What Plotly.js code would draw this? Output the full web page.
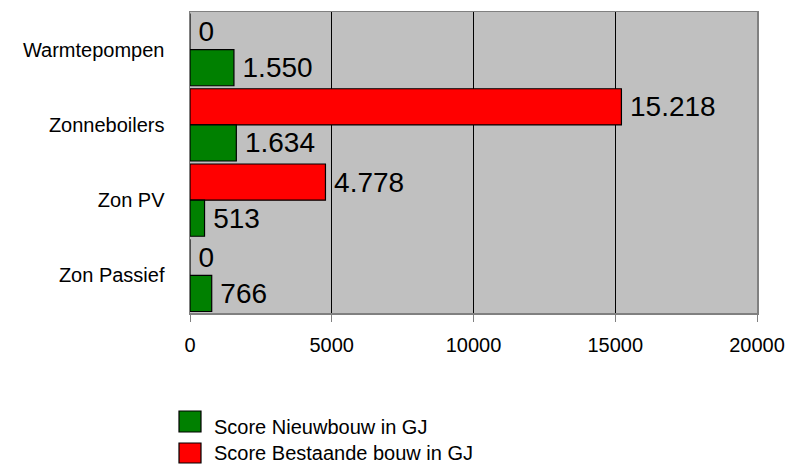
<!DOCTYPE html>
<html>
<head>
<meta charset="utf-8">
<script src="https://cdn.plot.ly/plotly-3.0.1.min.js"></script>
<style>html,body{margin:0;padding:0;background:#fff;}#chart{width:789px;height:465px;}</style>
</head>
<body>
<div id="chart"></div>
<script>
const categories = ['Warmtepompen', 'Zonneboilers', 'Zon PV', 'Zon Passief'];
const bestaandeBouw = [0, 15218, 4778, 0];
const nieuwbouw = [1550, 1634, 513, 766];
const seriesNames = ['Score Bestaande bouw in GJ', 'Score Nieuwbouw in GJ'];
const xTicks = [0, 5000, 10000, 15000, 20000];

function fmt(v) { return '\u2009' + String(v).replace(/\B(?=(\d{3})+(?!\d))/g, '.'); }

const FONT = 'Liberation Sans, Arial, sans-serif';

const traces = [
  {
    type: 'bar', orientation: 'h', name: seriesNames[0],
    y: categories, x: bestaandeBouw,
    text: bestaandeBouw.map(fmt), textposition: 'outside', cliponaxis: false,
    constraintext: 'none',
    textfont: {family: FONT, size: 28, color: '#000'},
    marker: {color: '#ff0000', line: {color: '#000', width: 1.2}},
    showlegend: false, hoverinfo: 'x+y'
  },
  {
    type: 'bar', orientation: 'h', name: seriesNames[1],
    y: categories, x: nieuwbouw,
    text: nieuwbouw.map(fmt), textposition: 'outside', cliponaxis: false,
    constraintext: 'none',
    textfont: {family: FONT, size: 28, color: '#000'},
    marker: {color: '#008000', line: {color: '#000', width: 1.2}},
    showlegend: false, hoverinfo: 'x+y'
  }
];

// Manual legend (large square swatches as in reference)
const legendItems = [
  {name: seriesNames[1], color: '#008000', y0: -0.3953, y1: -0.3256, ty: -0.380},
  {name: seriesNames[0], color: '#ff0000', y0: -0.4983, y1: -0.4319, ty: -0.466}
];
const shapes = legendItems.map(it => ({
  type: 'rect', xref: 'paper', yref: 'paper',
  x0: -0.0194, x1: 0.0194, y0: it.y0, y1: it.y1,
  fillcolor: it.color, line: {color: '#000', width: 1.2}
}));
const annotations = legendItems.map(it => ({
  xref: 'paper', yref: 'paper', x: 0.038, y: it.ty,
  xanchor: 'left', yanchor: 'middle', showarrow: false,
  text: it.name, font: {family: FONT, size: 20, color: '#000'}
}));

const layout = {
  width: 789, height: 465,
  margin: {l: 190, r: 32, t: 12, b: 152},
  paper_bgcolor: '#ffffff', plot_bgcolor: '#c0c0c0',
  font: {family: FONT, color: '#000'},
  barmode: 'group', bargap: 0.04, bargroupgap: 0,
  showlegend: false,
  xaxis: {
    range: [0, 20000], tickvals: xTicks, ticktext: xTicks.map(String),
    showgrid: true, gridcolor: '#000000', gridwidth: 1,
    zeroline: false,
    showline: true, linecolor: '#808080', linewidth: 1.5, mirror: true,
    ticks: 'outside', ticklen: 7, tickcolor: '#808080', tickwidth: 1,
    ticklabelstandoff: 6,
    tickfont: {family: FONT, size: 20, color: '#000'}
  },
  yaxis: {
    type: 'category', autorange: 'reversed',
    showgrid: false, zeroline: false,
    showline: true, linecolor: '#808080', linewidth: 1.5, mirror: true,
    ticks: '', ticklabelstandoff: 20,
    tickfont: {family: FONT, size: 20, color: '#000'}
  },
  shapes: shapes,
  annotations: annotations
};

Plotly.newPlot('chart', traces, layout, {displayModeBar: false, staticPlot: true});
</script>
</body>
</html>
